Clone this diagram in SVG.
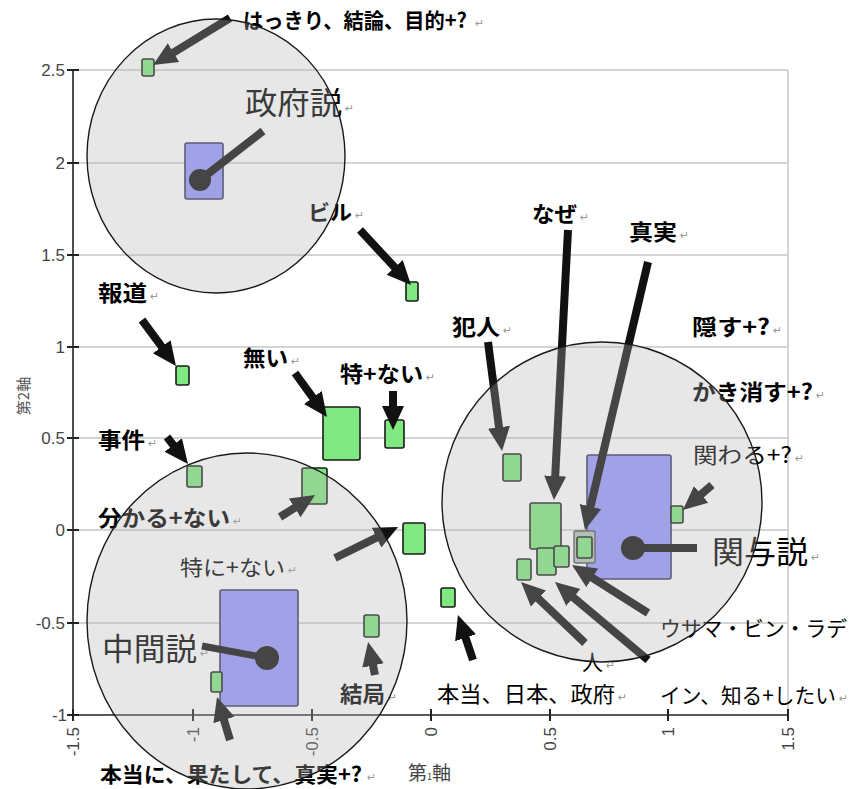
<svg xmlns="http://www.w3.org/2000/svg" width="850" height="789" viewBox="0 0 850 789">
<defs>
<style>
.grid{stroke:#c6c6c6;stroke-width:1.5}
.ax{stroke:#222;stroke-width:1.6}
.tkl{stroke:#222;stroke-width:2}
.tk{font-family:"Liberation Sans",Arial,sans-serif;font-size:17px;fill:#444}
.lb{font-family:"Noto Sans CJK JP","Noto Sans",sans-serif;font-size:22px;fill:#000}
.b{font-weight:700}
.big{font-size:31px}
.ret{font-family:"DejaVu Sans",sans-serif;font-size:11px;fill:#999}
.pt{fill:#80e880;stroke:#1a1a1a;stroke-width:1.6}
.cl{fill:#9999ff;stroke:#333355;stroke-width:1.6}
.ar{stroke:#111;stroke-width:8;fill:none;marker-end:url(#ah)}
.dl{stroke:#111;stroke-width:8;fill:none}
.dot{fill:#111}
.ov{fill:#b5b5b5;fill-opacity:0.32;stroke:#1a1a1a;stroke-width:1.4}
</style>
<marker id="ah" markerUnits="userSpaceOnUse" markerWidth="24" markerHeight="24" viewBox="0 0 24 24" refX="4" refY="12" orient="auto">
<path d="M0,1 L24,12 L0,23 Z" fill="#111"/>
</marker>
</defs>
<rect width="850" height="789" fill="#fff"/>

<g id="grid">
<line class="grid" x1="73" y1="70" x2="788" y2="70"/>
<line class="grid" x1="73" y1="163" x2="788" y2="163"/>
<line class="grid" x1="73" y1="255" x2="788" y2="255"/>
<line class="grid" x1="73" y1="347" x2="788" y2="347"/>
<line class="grid" x1="73" y1="438" x2="788" y2="438"/>
<line class="grid" x1="73" y1="530" x2="788" y2="530"/>
<line class="grid" x1="73" y1="623" x2="788" y2="623"/>
<line class="grid" x1="788" y1="70" x2="788" y2="715"/>
</g>

<g id="axes">
<line class="ax" x1="73" y1="70" x2="73" y2="715"/>
<line class="ax" x1="73" y1="715" x2="788" y2="715"/>
<line class="tkl" x1="67" y1="70" x2="79" y2="70"/>
<line class="tkl" x1="67" y1="163" x2="79" y2="163"/>
<line class="tkl" x1="67" y1="255" x2="79" y2="255"/>
<line class="tkl" x1="67" y1="347" x2="79" y2="347"/>
<line class="tkl" x1="67" y1="438" x2="79" y2="438"/>
<line class="tkl" x1="67" y1="530" x2="79" y2="530"/>
<line class="tkl" x1="67" y1="623" x2="79" y2="623"/>
<line class="tkl" x1="67" y1="715" x2="79" y2="715"/>
<line class="tkl" x1="73" y1="709" x2="73" y2="721"/>
<line class="tkl" x1="193" y1="709" x2="193" y2="721"/>
<line class="tkl" x1="312" y1="709" x2="312" y2="721"/>
<line class="tkl" x1="431" y1="709" x2="431" y2="721"/>
<line class="tkl" x1="550" y1="709" x2="550" y2="721"/>
<line class="tkl" x1="668" y1="709" x2="668" y2="721"/>
<line class="tkl" x1="788" y1="709" x2="788" y2="721"/>
<g text-anchor="end">
<text class="tk" x="65" y="76">2.5</text>
<text class="tk" x="65" y="169">2</text>
<text class="tk" x="65" y="261">1.5</text>
<text class="tk" x="65" y="353">1</text>
<text class="tk" x="65" y="444">0.5</text>
<text class="tk" x="65" y="536">0</text>
<text class="tk" x="65" y="629">-0.5</text>
<text class="tk" x="67" y="721">-1</text>
<text class="tk" transform="translate(79,727) rotate(-90)">-1.5</text>
<text class="tk" transform="translate(199,727) rotate(-90)">-1</text>
<text class="tk" transform="translate(318,727) rotate(-90)">-0.5</text>
<text class="tk" transform="translate(437,727) rotate(-90)">0</text>
<text class="tk" transform="translate(556,727) rotate(-90)">0.5</text>
<text class="tk" transform="translate(674,727) rotate(-90)">1</text>
<text class="tk" transform="translate(794,727) rotate(-90)">1.5</text>
</g>
<text class="lb" text-anchor="middle" transform="translate(29,396) rotate(-90)" style="font-size:15px;fill:#555">第2軸</text>
<text class="lb" x="408" y="780" style="font-size:19px;fill:#444">第<tspan style="font-size:9px">1</tspan>軸</text>
</g>

<g id="clusters">
<g id="cl-seifu"><rect class="cl" x="185" y="143" width="38" height="56" rx="2"/></g>
<g id="cl-chukan"><rect class="cl" x="220" y="590" width="78" height="116" rx="2"/></g>
<g id="cl-kanyo"><rect class="cl" x="587" y="455" width="84" height="124" rx="2"/></g>
</g>

<g id="points">
<g id="pt-hakkiri"><rect class="pt" x="142" y="59" width="12" height="17" rx="2"/></g>
<g id="pt-biru"><rect class="pt" x="406" y="282" width="12" height="19" rx="2"/></g>
<g id="pt-houdou"><rect class="pt" x="176" y="366" width="13" height="19" rx="2"/></g>
<g id="pt-nai"><rect class="pt" x="323" y="407" width="37" height="53" rx="2"/></g>
<g id="pt-toku-nai"><rect class="pt" x="385" y="420" width="19" height="28" rx="2"/></g>
<g id="pt-jiken"><rect class="pt" x="187" y="466" width="15" height="21" rx="2"/></g>
<g id="pt-wakaru-nai"><rect class="pt" x="302" y="468" width="25" height="36" rx="2"/></g>
<g id="pt-tokuni-nai"><rect class="pt" x="403" y="523" width="22" height="31" rx="2"/></g>
<g id="pt-kekkyoku"><rect class="pt" x="364" y="615" width="15" height="22" rx="2"/></g>
<g id="pt-hontou-nihon"><rect class="pt" x="441" y="588" width="14" height="19" rx="2"/></g>
<g id="pt-hontouni"><rect class="pt" x="211" y="672" width="11" height="20" rx="2"/></g>
<g id="pt-hannin"><rect class="pt" x="503" y="454" width="18" height="27" rx="2"/></g>
<g id="pt-naze"><rect class="pt" x="530" y="503" width="31" height="46" rx="2"/></g>
<g id="pt-shinjitsu"><rect x="574" y="531" width="21" height="32" rx="2" fill="#b0c4b8" stroke="#555" stroke-width="1.4"/><rect class="pt" x="577" y="537" width="15" height="21" rx="2"/></g>
<g id="pt-usama-a"><rect class="pt" x="537" y="548" width="19" height="27" rx="2"/></g>
<g id="pt-usama-b"><rect class="pt" x="554" y="546" width="15" height="21" rx="2"/></g>
<g id="pt-hito"><rect class="pt" x="517" y="559" width="14" height="21" rx="2"/></g>
<g id="pt-kakawaru"><rect class="pt" x="671" y="506" width="12" height="17" rx="2"/></g>
</g>

<g id="labels">
<g id="lb-hakkiri"><text class="lb b" x="243" y="28" style="font-size:21px" textLength="224" lengthAdjust="spacingAndGlyphs">はっきり、結論、目的+?</text><text class="ret" x="475" y="27">↵</text></g>
<g id="lb-seifu"><text class="lb big" x="245" y="114" textLength="97" lengthAdjust="spacingAndGlyphs">政府説</text><text class="ret" x="345" y="112">↵</text></g>
<g id="lb-biru"><text class="lb b" x="308" y="220" style="font-size:21px" textLength="44" lengthAdjust="spacingAndGlyphs">ビル</text><text class="ret" x="355" y="219">↵</text></g>
<g id="lb-houdou"><text class="lb b" x="98" y="301" textLength="49" lengthAdjust="spacingAndGlyphs">報道</text><text class="ret" x="150" y="300">↵</text></g>
<g id="lb-nai"><text class="lb b" x="243" y="366" textLength="45" lengthAdjust="spacingAndGlyphs">無い</text><text class="ret" x="291" y="365">↵</text></g>
<g id="lb-toku-nai"><text class="lb b" x="340" y="382" textLength="83" lengthAdjust="spacingAndGlyphs">特+ない</text><text class="ret" x="426" y="381">↵</text></g>
<g id="lb-jiken"><text class="lb b" x="98" y="448" textLength="47" lengthAdjust="spacingAndGlyphs">事件</text><text class="ret" x="148" y="447">↵</text></g>
<g id="lb-wakaru-nai"><text class="lb b" x="98" y="526" textLength="132" lengthAdjust="spacingAndGlyphs">分かる+ない</text><text class="ret" x="233" y="525">↵</text></g>
<g id="lb-tokuni-nai"><text class="lb" x="180" y="575" style="font-size:21px" textLength="105" lengthAdjust="spacingAndGlyphs">特に+ない</text><text class="ret" x="288" y="574">↵</text></g>
<g id="lb-chukan"><text class="lb big" x="102" y="660" textLength="95" lengthAdjust="spacingAndGlyphs">中間説</text><text class="ret" x="200" y="657">↵</text></g>
<g id="lb-kekkyoku"><text class="lb b" x="340" y="702" textLength="45" lengthAdjust="spacingAndGlyphs">結局</text><text class="ret" x="388" y="701">↵</text></g>
<g id="lb-hontou-nihon"><text class="lb" x="437" y="702" textLength="178" lengthAdjust="spacingAndGlyphs">本当、日本、政府</text><text class="ret" x="618" y="701">↵</text></g>
<g id="lb-hontouni"><text class="lb b" x="100" y="782" style="font-size:21px" textLength="262" lengthAdjust="spacingAndGlyphs">本当に、果たして、真実+?</text><text class="ret" x="367" y="781">↵</text></g>
<g id="lb-naze"><text class="lb b" x="532" y="222" textLength="45" lengthAdjust="spacingAndGlyphs">なぜ</text><text class="ret" x="580" y="221">↵</text></g>
<g id="lb-shinjitsu"><text class="lb b" x="629" y="240" textLength="48" lengthAdjust="spacingAndGlyphs">真実</text><text class="ret" x="680" y="239">↵</text></g>
<g id="lb-hannin"><text class="lb b" x="452" y="335" textLength="48" lengthAdjust="spacingAndGlyphs">犯人</text><text class="ret" x="503" y="334">↵</text></g>
<g id="lb-kakusu"><text class="lb b" x="692" y="335" textLength="78" lengthAdjust="spacingAndGlyphs">隠す+?</text><text class="ret" x="773" y="334">↵</text></g>
<g id="lb-kakikesu"><text class="lb b" x="692" y="400" textLength="121" lengthAdjust="spacingAndGlyphs">かき消す+?</text><text class="ret" x="816" y="399">↵</text></g>
<g id="lb-kakawaru"><text class="lb" x="693" y="463" textLength="99" lengthAdjust="spacingAndGlyphs">関わる+?</text><text class="ret" x="795" y="462">↵</text></g>
<g id="lb-kanyo"><text class="lb big" x="712" y="563" textLength="96" lengthAdjust="spacingAndGlyphs">関与説</text><text class="ret" x="811" y="561">↵</text></g>
<g id="lb-usama"><text class="lb" x="660" y="636" style="font-size:21px" textLength="187" lengthAdjust="spacingAndGlyphs">ウサマ・ビン・ラデ</text><text class="lb" x="660" y="703" style="font-size:21px" textLength="176" lengthAdjust="spacingAndGlyphs">イン、知る+したい</text><text class="ret" x="839" y="702">↵</text></g>
<g id="lb-hito"><text class="lb" x="582" y="670" textLength="21" lengthAdjust="spacingAndGlyphs">人</text><text class="ret" x="606" y="669">↵</text></g>
</g>

<g id="connectors">
<line class="dl" x1="200" y1="180" x2="263" y2="131"/><circle class="dot" cx="200" cy="180" r="11"/>
<line class="dl" x1="267" y1="658" x2="202" y2="646" style="stroke-width:7"/><circle class="dot" cx="267" cy="658" r="12"/>
<line class="dl" x1="633" y1="548" x2="697" y2="548"/><circle class="dot" cx="633" cy="548" r="12"/>
<line class="ar" x1="230" y1="18" x2="170.1" y2="54.6"/>
<line class="ar" x1="360" y1="230" x2="397.4" y2="270.3"/>
<line class="ar" x1="142" y1="320" x2="164.1" y2="349.9"/>
<line class="ar" x1="295" y1="373" x2="315.2" y2="400.8"/>
<line class="ar" x1="393" y1="391" x2="393" y2="410"/>
<line class="ar" x1="167" y1="437" x2="175.7" y2="448.2"/>
<line class="ar" x1="280" y1="517" x2="298.1" y2="505.7"/>
<line class="ar" x1="335" y1="558" x2="380.1" y2="535.8"/>
<line class="ar" x1="375" y1="675" x2="372.2" y2="661.6"/>
<line class="ar" x1="473" y1="660" x2="464.3" y2="634"/>
<line class="ar" x1="230" y1="740" x2="222.8" y2="716.2"/>
<line class="ar" x1="488" y1="342" x2="499.5" y2="431.2"/>
<line class="ar" x1="568" y1="230" x2="555" y2="480"/>
<line class="ar" x1="648" y1="262" x2="589.6" y2="510.5"/>
<line class="ar" x1="712" y1="485" x2="698.1" y2="496.9"/>
<line class="ar" x1="648" y1="613" x2="588.9" y2="575.7"/>
<line class="ar" x1="648" y1="660" x2="570.3" y2="594.9"/>
<line class="ar" x1="585" y1="643" x2="535.5" y2="595.8"/>
</g>

<g id="groups">
<ellipse id="grp-seifu" class="ov" cx="216" cy="156" rx="129" ry="137"/>
<ellipse id="grp-chukan" class="ov" cx="247" cy="621" rx="160" ry="168"/>
<circle id="grp-kanyo" class="ov" cx="602" cy="502" r="160"/>
</g>
</svg>
